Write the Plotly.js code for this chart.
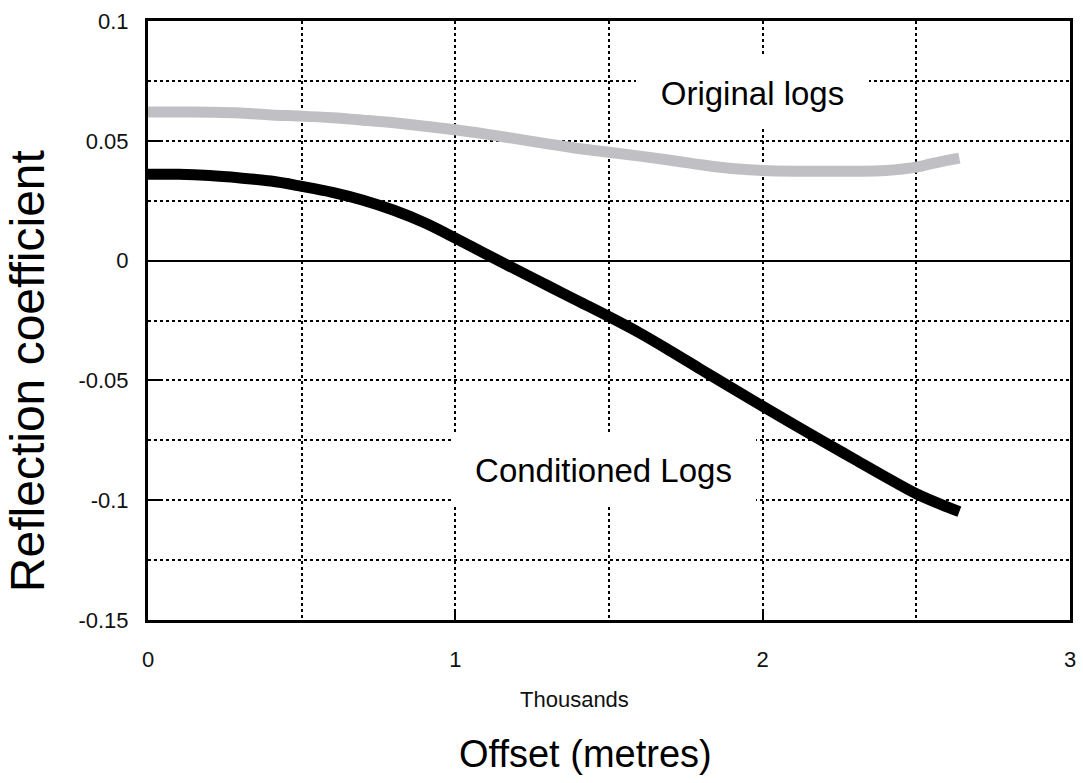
<!DOCTYPE html>
<html>
<head>
<meta charset="utf-8">
<script src="https://cdn.plot.ly/plotly-3.0.1.min.js"></script>
<style>
  html, body { margin: 0; padding: 0; background: #ffffff; }
  #chart { width: 1083px; height: 783px; }
</style>
</head>
<body>
<div id="chart"></div>
<script>
// Offset in thousands of metres
const offsetOriginal = [0, 0.1, 0.2, 0.3, 0.4, 0.5, 0.6, 0.7, 0.8, 0.9, 1.0, 1.1, 1.2, 1.3, 1.4, 1.5, 1.6, 1.7, 1.8, 1.9, 2.0, 2.1, 2.2, 2.3, 2.4, 2.5, 2.55, 2.6, 2.64];
const reflOriginal = [0.062, 0.062, 0.0619, 0.0616, 0.0608, 0.0603, 0.0596, 0.0586, 0.0575, 0.0561, 0.0546, 0.0528, 0.0508, 0.0487, 0.0468, 0.0452, 0.0436, 0.0419, 0.0400, 0.0384, 0.0376, 0.0373, 0.0373, 0.0373, 0.0376, 0.0390, 0.0405, 0.0418, 0.0428];

const offsetConditioned = [0, 0.1, 0.2, 0.3, 0.4, 0.5, 0.6, 0.7, 0.8, 0.9, 1.0, 1.1, 1.2, 1.3, 1.4, 1.5, 1.6, 1.7, 1.8, 1.9, 2.0, 2.1, 2.2, 2.3, 2.4, 2.5, 2.6, 2.64];
const reflConditioned = [0.036, 0.036, 0.0355, 0.0345, 0.0332, 0.031, 0.0285, 0.0252, 0.021, 0.0158, 0.0094, 0.0027, -0.0039, -0.0104, -0.0169, -0.0234, -0.0302, -0.0377, -0.0455, -0.0532, -0.0608, -0.0683, -0.0757, -0.083, -0.0903, -0.0973, -0.1028, -0.1048];

const xTickVals = [0, 1, 2, 3];
const xTickLabels = ['0', '1', '2', '3'];
const yTickVals = [0.1, 0.05, 0, -0.05, -0.1, -0.15];
const yTickLabels = ['0.1', '0.05', '0', '-0.05', '-0.1', '-0.15'];

const FONT = 'Liberation Sans, Arial, sans-serif';
const DOTS = '3px,3px';

const traces = [
  {
    x: offsetOriginal, y: reflOriginal,
    type: 'scatter', mode: 'lines', name: 'Original logs',
    line: { color: '#c0c0c4', width: 11, shape: 'spline' },
    hoverinfo: 'skip'
  },
  {
    x: offsetConditioned, y: reflConditioned,
    type: 'scatter', mode: 'lines', name: 'Conditioned Logs',
    line: { color: '#000000', width: 11, shape: 'spline' },
    hoverinfo: 'skip'
  }
];

const layout = {
  width: 1083, height: 783,
  margin: { l: 148, r: 13, t: 21, b: 163 },
  paper_bgcolor: '#ffffff', plot_bgcolor: '#ffffff',
  showlegend: false,
  font: { family: FONT, color: '#000000' },
  xaxis: {
    range: [0, 3],
    tickmode: 'array', tickvals: xTickVals, ticktext: xTickLabels,
    tickfont: { family: FONT, size: 22, color: '#111111' },
    ticks: 'inside', ticklen: 8, tickwidth: 2, tickcolor: '#000000',
    ticklabelstandoff: 18,
    showline: true, linecolor: '#000000', linewidth: 3, mirror: true,
    showgrid: true, gridcolor: '#000000', gridwidth: 2, griddash: DOTS,
    minor: { tickmode: 'array', tickvals: [0.5, 1.5, 2.5], showgrid: true, gridcolor: '#000000', gridwidth: 2, griddash: DOTS },
    zeroline: false, fixedrange: true
  },
  yaxis: {
    range: [-0.15, 0.1],
    tickmode: 'array', tickvals: yTickVals, ticktext: yTickLabels,
    tickfont: { family: FONT, size: 22, color: '#111111' },
    ticks: 'inside', ticklen: 15, tickwidth: 2, tickcolor: '#000000',
    ticklabelstandoff: 12,
    showline: true, linecolor: '#000000', linewidth: 3, mirror: true,
    showgrid: true, gridcolor: '#000000', gridwidth: 2, griddash: DOTS,
    minor: { tickmode: 'array', tickvals: [0.075, 0.025, -0.025, -0.075, -0.125], showgrid: true, gridcolor: '#000000', gridwidth: 2, griddash: DOTS },
    zeroline: true, zerolinecolor: '#000000', zerolinewidth: 2,
    fixedrange: true
  },
  annotations: [
    {
      text: 'Original logs', xref: 'x', yref: 'y', x: 1.967, y: 0.07,
      showarrow: false, xanchor: 'center', yanchor: 'middle',
      width: 231, height: 70, bgcolor: '#ffffff', borderwidth: 0,
      font: { family: FONT, size: 33, color: '#000000' }
    },
    {
      text: 'Conditioned Logs', xref: 'x', yref: 'y', x: 1.482, y: -0.0875,
      showarrow: false, xanchor: 'center', yanchor: 'middle',
      width: 303, height: 68, bgcolor: '#ffffff', borderwidth: 0,
      font: { family: FONT, size: 33, color: '#000000' }
    },
    {
      text: 'Reflection coefficient', xref: 'paper', yref: 'paper',
      x: -0.130, y: 0.4157, textangle: -90,
      showarrow: false, xanchor: 'center', yanchor: 'middle',
      font: { family: FONT, size: 48, color: '#000000' }
    },
    {
      text: 'Thousands', xref: 'paper', yref: 'paper',
      x: 0.463, y: -0.132,
      showarrow: false, xanchor: 'center', yanchor: 'middle',
      font: { family: FONT, size: 22, color: '#111111' }
    },
    {
      text: 'Offset (metres)', xref: 'paper', yref: 'paper',
      x: 0.4745, y: -0.2237,
      showarrow: false, xanchor: 'center', yanchor: 'middle',
      font: { family: FONT, size: 38, color: '#000000' }
    }
  ]
};

Plotly.newPlot('chart', traces, layout, { staticPlot: true, displayModeBar: false });
</script>
</body>
</html>
